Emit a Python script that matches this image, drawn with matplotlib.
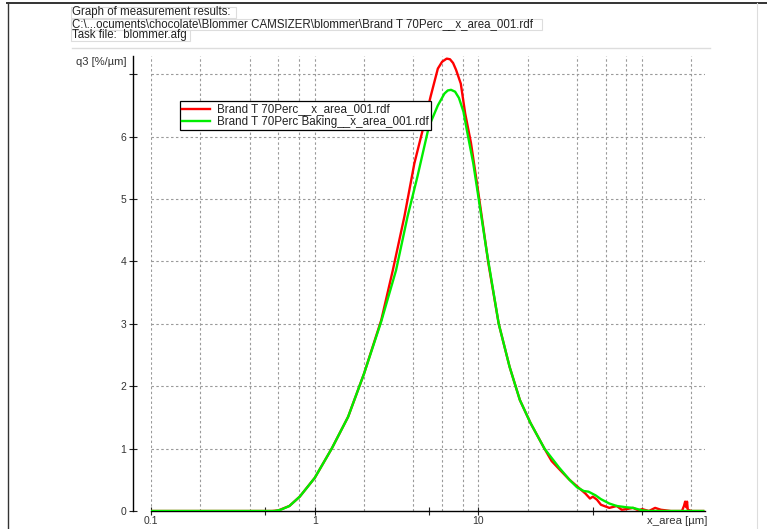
import matplotlib
matplotlib.use("Agg")
import matplotlib.pyplot as plt
from matplotlib.lines import Line2D
from matplotlib.patches import Rectangle
from matplotlib.ticker import FixedLocator, NullLocator, FixedFormatter

plt.rcParams['font.family'] = ['Liberation Sans', 'DejaVu Sans']

# ---------------- data ----------------
red_label = "Brand T 70Perc__x_area_001.rdf"
green_label = "Brand T 70Perc Baking__x_area_001.rdf"

red_x = [0.1, 0.55, 0.6, 0.7, 0.81, 1.0, 1.27, 1.6, 2.0, 2.55, 3.0, 3.53, 4.06, 4.56,
         5.1, 5.65, 6.0, 6.4, 6.7, 7.0, 7.3, 7.8, 8.3, 9.0, 9.8, 10.7, 11.5, 13.3, 15.5,
         17.9, 20.8, 25.3, 28, 32.5, 36, 41.5, 45, 48, 50, 53, 56, 63, 70, 75, 80,
         88, 95, 100, 110, 120, 130, 150, 175, 180, 183, 186, 188, 190, 200, 236]
red_y = [0, 0, 0.01, 0.08, 0.23, 0.53, 1.0, 1.51, 2.2, 3.06, 3.86, 4.72, 5.57, 6.1,
         6.64, 7.09, 7.2, 7.25, 7.24, 7.18, 7.07, 6.85, 6.37, 5.9, 5.25, 4.55, 3.97, 3.0, 2.31,
         1.78, 1.41, 1.0, 0.8, 0.62, 0.5, 0.36, 0.28, 0.2, 0.23, 0.18, 0.1, 0.05, 0.08, 0.02, 0.03,
         0.05, 0.01, 0.03, 0.0, 0.05, 0.02, 0, 0, 0.08, 0.15, 0.06, 0.15, 0.02, 0, 0]

green_x = [0.1, 0.57, 0.62, 0.7, 0.81, 1.0, 1.27, 1.6, 2.0, 2.55, 3.14, 3.69, 4.24, 4.98,
           5.65, 6.2, 6.5, 6.8, 7.2, 7.6, 8.1, 8.5, 9.3, 10.2, 11.2, 13.3, 15.5, 17.9, 20.8, 25.3,
           31, 36, 40, 44, 47, 52, 56, 63, 70, 80, 88, 100, 110, 236]
green_y = [0, 0, 0.02, 0.08, 0.23, 0.53, 1.0, 1.51, 2.2, 3.04, 3.86, 4.72, 5.36, 6.16,
           6.5, 6.69, 6.74, 6.75, 6.72, 6.62, 6.4, 6.1, 5.57, 4.88, 4.18, 3.0, 2.31, 1.78, 1.41, 1.0,
           0.7, 0.5, 0.38, 0.32, 0.31, 0.25, 0.19, 0.12, 0.08, 0.06, 0.05, 0.01, 0, 0]

x_grid = [0.1, 0.2, 0.4, 0.6, 0.8, 1, 2, 4, 6, 8, 10, 20, 40, 60, 80, 100, 200]
x_major = [0.1, 0.5, 1, 5, 10, 50, 100]
x_major_labels = ["0.1", "", "1", "", "10", "", ""]
y_ticks = [0, 1, 2, 3, 4, 5, 6, 7]
y_tick_labels = ["0", "1", "2", "3", "4", "5", "6", ""]
y_grid = [1, 2, 3, 4, 5, 6, 7]

header_lines = ["Graph of measurement results:",
                "C:\\...ocuments\\chocolate\\Blommer CAMSIZER\\blommer\\Brand T 70Perc__x_area_001.rdf",
                "Task file:  blommer.afg"]

# ---------------- figure ----------------
W, H = 767, 529
fig = plt.figure(figsize=(W / 100, H / 100), dpi=100)

def fx(px):
    return px / W

def fy(py):
    return 1 - py / H

ax_left, ax_right, ax_bottom, ax_top = 151, 705, 511, 55.5
ax = fig.add_axes([fx(ax_left), fy(ax_bottom), fx(ax_right) - fx(ax_left), fy(ax_top) - fy(ax_bottom)])
ax.set_xscale('log')
ax.set_xlim(0.1, 242)
ax.set_ylim(0, 7.3)

# grid
for gx in x_grid:
    ax.axvline(gx, color='#9a9a9a', lw=0.8, ls=(0, (2.2, 2.2)), zorder=1)
for gy in y_grid:
    ax.axhline(gy, color='#9a9a9a', lw=0.8, ls=(0, (2.2, 2.2)), zorder=1)

ax.plot(red_x, red_y, color='#ff0000', lw=1.7, zorder=3, label=red_label)
ax.plot(green_x, green_y, color='#00ee00', lw=1.7, zorder=4, label=green_label)

for s in ['top', 'right']:
    ax.spines[s].set_visible(False)
ax.spines['left'].set_position(('outward', 13))
ax.spines['left'].set_bounds(0, 7.3)
ax.spines['left'].set_linewidth(1.0)
ax.spines['bottom'].set_linewidth(1.0)

ax.xaxis.set_major_locator(FixedLocator(x_major))
ax.xaxis.set_major_formatter(FixedFormatter(x_major_labels))
ax.xaxis.set_minor_locator(NullLocator())
ax.set_yticks(y_ticks)
ax.set_yticklabels(y_tick_labels)
ax.tick_params(axis='both', direction='inout', length=6, width=0.8, labelsize=7.5,
               labelcolor='#333333', color='#222222')
ax.tick_params(axis='x', pad=0.5)
ax.tick_params(axis='y', pad=2)

# legend
leg = ax.legend(loc='upper left', bbox_to_anchor=(fx(180), fy(101)), bbox_transform=fig.transFigure,
                fontsize=8.4, frameon=True, fancybox=False, edgecolor='black', framealpha=1,
                borderpad=0.2, handlelength=2.4, handletextpad=0.6, labelspacing=0.05,
                borderaxespad=0, handleheight=0.5)
leg.get_frame().set_linewidth(0.9)
for t in leg.get_texts():
    t.set_color('#222222')

# axis labels
fig.text(fx(677), fy(521), "x_area [µm]", ha='center', va='center', fontsize=8.2, color='#333333')
fig.text(fx(127), fy(62), "q3 [%/µm]", ha='right', va='center', fontsize=8, color='#333333')

# header texts
header_y = [12, 24, 35]
header_box_right = [236, 542, 190]
for line, yy, xr in zip(header_lines, header_y, header_box_right):
    fig.text(fx(72), fy(yy), line, ha='left', va='center', fontsize=8.3, color='#222222')
    fig.add_artist(Rectangle((fx(71), fy(yy + 5.5)), fx(xr) - fx(71), fy(yy - 5.5) - fy(yy + 5.5),
                             transform=fig.transFigure, fill=False, edgecolor='#dddddd', lw=0.8))

# frame lines
fig.add_artist(Line2D([fx(7), fx(767)], [fy(2.5), fy(2.5)], transform=fig.transFigure, color='#333333', lw=1.4))
fig.add_artist(Line2D([fx(7.5), fx(7.5)], [fy(2.5), fy(529)], transform=fig.transFigure, color='#333333', lw=1.0))
fig.add_artist(Line2D([fx(72), fx(710)], [fy(48), fy(48)], transform=fig.transFigure, color='#dddddd', lw=1.0))
fig.add_artist(Line2D([fx(757), fx(757)], [fy(2.5), fy(529)], transform=fig.transFigure, color='#dddddd', lw=0.8))

fig.savefig("out.png", dpi=100)
